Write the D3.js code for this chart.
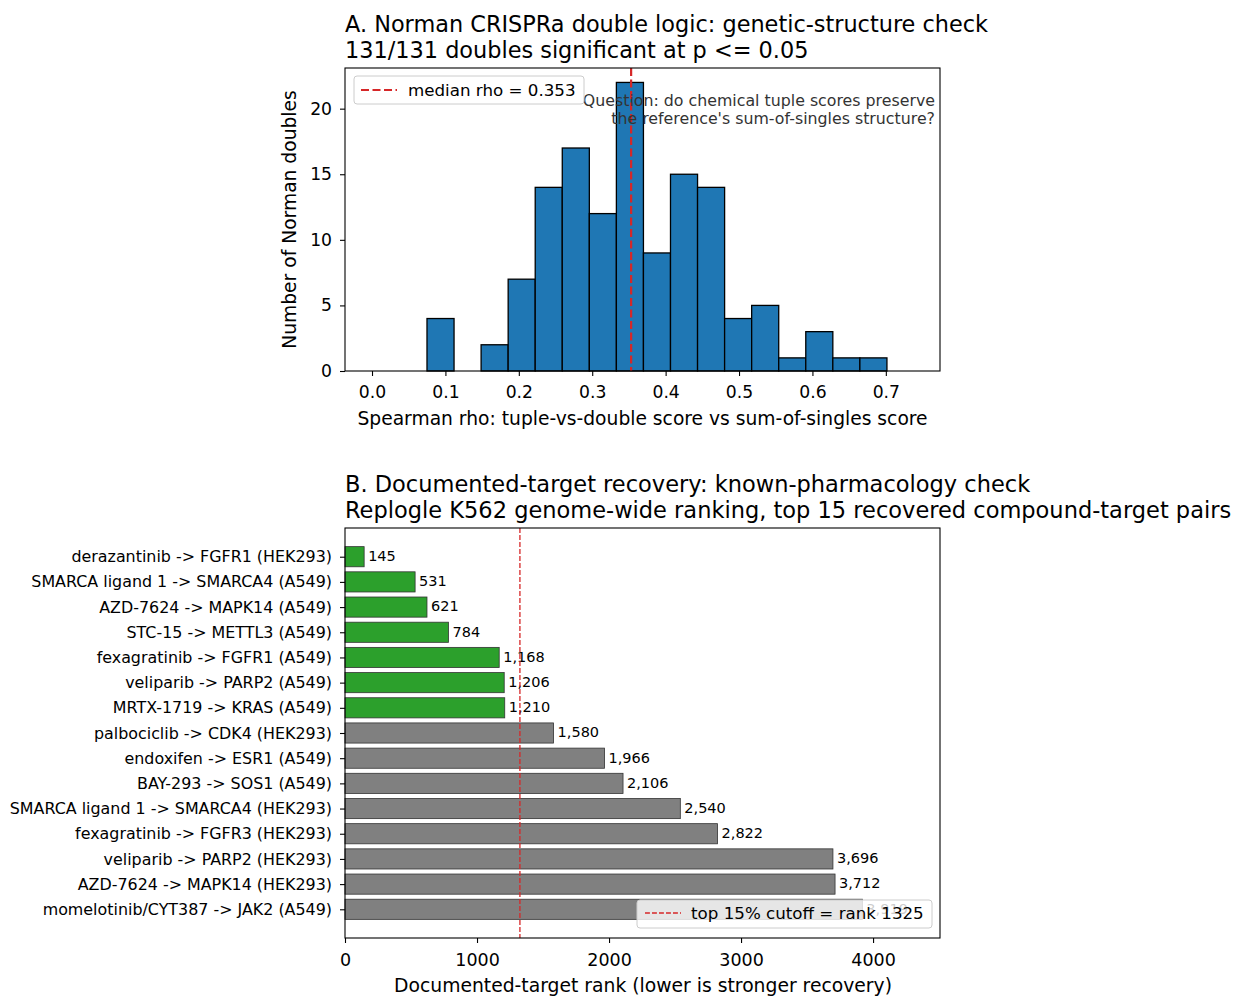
<!DOCTYPE html>
<html>
<head>
<meta charset="utf-8">
<script src="https://cdn.jsdelivr.net/npm/d3@7"></script>
<style>
  html, body { margin: 0; padding: 0; background: #fff; }
  svg text { font-family: "DejaVu Sans", sans-serif; }
</style>
</head>
<body>
<svg id="chart" width="1236" height="997"></svg>
<script>
// ---------- Data ----------
const histBinStart = 0.0749;
const histBinWidth = 0.03686;
const histCounts = [4, 0, 2, 7, 14, 17, 12, 22, 9, 15, 14, 4, 5, 1, 3, 1, 1];
const medianRho = 0.353;
const histXTicks = [0.0, 0.1, 0.2, 0.3, 0.4, 0.5, 0.6, 0.7];
const histYTicks = [0, 5, 10, 15, 20];

const pairLabels = [
  "derazantinib -> FGFR1 (HEK293)",
  "SMARCA ligand 1 -> SMARCA4 (A549)",
  "AZD-7624 -> MAPK14 (A549)",
  "STC-15 -> METTL3 (A549)",
  "fexagratinib -> FGFR1 (A549)",
  "veliparib -> PARP2 (A549)",
  "MRTX-1719 -> KRAS (A549)",
  "palbociclib -> CDK4 (HEK293)",
  "endoxifen -> ESR1 (A549)",
  "BAY-293 -> SOS1 (A549)",
  "SMARCA ligand 1 -> SMARCA4 (HEK293)",
  "fexagratinib -> FGFR3 (HEK293)",
  "veliparib -> PARP2 (HEK293)",
  "AZD-7624 -> MAPK14 (HEK293)",
  "momelotinib/CYT387 -> JAK2 (A549)"
];
const pairRanks = [145, 531, 621, 784, 1168, 1206, 1210, 1580, 1966, 2106, 2540, 2822, 3696, 3712, 3919];
const cutoffRank = 1325;
const rankTicks = [0, 1000, 2000, 3000, 4000];

// ---------- Setup ----------
const svg = d3.select("#chart");
const FONT = "DejaVu Sans, sans-serif";
const RED = "#d62728";

function drawFrame(g, x0, x1, y0, y1) {
  g.append("rect").attr("x", x0).attr("y", y0).attr("width", x1 - x0).attr("height", y1 - y0)
    .attr("fill", "none").attr("stroke", "#000").attr("stroke-width", 1.1);
}

// ================= Panel A =================
const A = { left: 345, right: 940, top: 68, bottom: 371 };
const xA = d3.scaleLinear().domain([-0.0368, 0.7738]).range([A.left, A.right]);
const yA = d3.scaleLinear().domain([0, 23.1]).range([A.bottom, A.top]);
const gA = svg.append("g");

const bins = histCounts.map((c, i) => ({ x0: histBinStart + i * histBinWidth, x1: histBinStart + (i + 1) * histBinWidth, c }));
gA.selectAll("rect.bin").data(bins.filter(d => d.c > 0)).enter().append("rect")
  .attr("class", "bin")
  .attr("x", d => xA(d.x0)).attr("width", d => xA(d.x1) - xA(d.x0))
  .attr("y", d => yA(d.c)).attr("height", d => yA(0) - yA(d.c))
  .attr("fill", "#1f77b4").attr("stroke", "#000").attr("stroke-width", 1.3);

// median line
gA.append("line").attr("x1", xA(medianRho)).attr("x2", xA(medianRho))
  .attr("y1", A.top).attr("y2", A.bottom)
  .attr("stroke", RED).attr("stroke-width", 2.2).attr("stroke-dasharray", "8,3.5");

// annotation
const annA = gA.append("text").attr("text-anchor", "end").attr("fill", "#333")
  .style("font-size", "15.8px");
annA.append("tspan").attr("x", 935).attr("y", 106).text("Question: do chemical tuple scores preserve");
annA.append("tspan").attr("x", 935).attr("y", 124).text("the reference's sum-of-singles structure?");

drawFrame(gA, A.left, A.right, A.top, A.bottom);

// axes A
const xAxisA = d3.axisBottom(xA).tickValues(histXTicks).tickFormat(d3.format(".1f")).tickSize(5).tickPadding(4);
const gxA = gA.append("g").attr("transform", `translate(0,${A.bottom})`).call(xAxisA);
const yAxisA = d3.axisLeft(yA).tickValues(histYTicks).tickSize(5).tickPadding(8);
const gyA = gA.append("g").attr("transform", `translate(${A.left},0)`).call(yAxisA);
[gxA, gyA].forEach(g => {
  g.select(".domain").remove();
  g.selectAll(".tick line").attr("stroke", "#000").attr("stroke-width", 1.1);
  g.selectAll(".tick text").attr("fill", "#000").style("font-size", "17.2px").style("font-family", FONT);
});
gxA.selectAll(".tick text").attr("dy", "1.05em");

gA.append("text").attr("x", (A.left + A.right) / 2 + 0).attr("y", 425).attr("text-anchor", "middle")
  .style("font-size", "18.7px").text("Spearman rho: tuple-vs-double score vs sum-of-singles score");
gA.append("text").attr("transform", `translate(296,${(A.top + A.bottom) / 2}) rotate(-90)`)
  .attr("text-anchor", "middle").style("font-size", "18.7px").text("Number of Norman doubles");

// title A
const tA = gA.append("text").style("font-size", "22.4px");
tA.append("tspan").attr("x", A.left).attr("y", 32).text("A. Norman CRISPRa double logic: genetic-structure check");
tA.append("tspan").attr("x", A.left).attr("y", 58).text("131/131 doubles significant at p <= 0.05");

// legend A
const lgA = gA.append("g");
lgA.append("rect").attr("x", 354).attr("y", 76).attr("width", 230).attr("height", 28).attr("rx", 3)
  .attr("fill", "#fff").attr("fill-opacity", 0.8).attr("stroke", "#ccc").attr("stroke-width", 1);
lgA.append("line").attr("x1", 361).attr("x2", 397).attr("y1", 90).attr("y2", 90)
  .attr("stroke", RED).attr("stroke-width", 2.2).attr("stroke-dasharray", "8,3.5");
lgA.append("text").attr("x", 408).attr("y", 96).style("font-size", "16.7px").text(`median rho = ${medianRho}`);

// ================= Panel B =================
const B = { left: 345, right: 940, top: 528, bottom: 938 };
const xB = d3.scaleLinear().domain([0, 4507]).range([B.left, B.right]);
const yB = d3.scaleLinear().domain([-1.14, 15.14]).range([B.top, B.bottom]);
const barH = yB(0.8) - yB(0);
const gB = svg.append("g");

gB.selectAll("rect.bar").data(pairRanks).enter().append("rect")
  .attr("class", "bar")
  .attr("x", xB(0)).attr("width", d => xB(d) - xB(0))
  .attr("y", (d, i) => yB(i) - barH / 2).attr("height", barH)
  .attr("fill", d => d < cutoffRank ? "#2ca02c" : "#808080")
  .attr("stroke", "#333").attr("stroke-width", 0.8);

const fmt = d3.format(",");
gB.selectAll("text.val").data(pairRanks).enter().append("text")
  .attr("class", "val")
  .attr("x", d => xB(d) + 4).attr("y", (d, i) => yB(i)).attr("dy", "0.3em")
  .style("font-size", "14.5px").text(d => fmt(d));

gB.append("line").attr("x1", xB(cutoffRank)).attr("x2", xB(cutoffRank))
  .attr("y1", B.top).attr("y2", B.bottom)
  .attr("stroke", RED).attr("stroke-width", 1.3).attr("stroke-dasharray", "4.9,2.1");

drawFrame(gB, B.left, B.right, B.top, B.bottom);

const xAxisB = d3.axisBottom(xB).tickValues(rankTicks).tickFormat(d3.format("d")).tickSize(5).tickPadding(4);
const gxB = gB.append("g").attr("transform", `translate(0,${B.bottom})`).call(xAxisB);
const yAxisB = d3.axisLeft(yB).tickValues(d3.range(pairLabels.length)).tickFormat(i => pairLabels[i]).tickSize(5).tickPadding(8);
const gyB = gB.append("g").attr("transform", `translate(${B.left},0)`).call(yAxisB);
[gxB, gyB].forEach(g => {
  g.select(".domain").remove();
  g.selectAll(".tick line").attr("stroke", "#000").attr("stroke-width", 1.1);
  g.selectAll(".tick text").attr("fill", "#000").style("font-family", FONT);
});
gxB.selectAll(".tick text").style("font-size", "17.5px").attr("dy", "1.1em");
gyB.selectAll(".tick text").style("font-size", "15.9px");

gB.append("text").attr("x", 643).attr("y", 992).attr("text-anchor", "middle")
  .style("font-size", "18.75px").text("Documented-target rank (lower is stronger recovery)");

const tB = gB.append("text").style("font-size", "22.5px");
tB.append("tspan").attr("x", B.left).attr("y", 492).text("B. Documented-target recovery: known-pharmacology check");
tB.append("tspan").attr("x", B.left).attr("y", 518).text("Replogle K562 genome-wide ranking, top 15 recovered compound-target pairs");

// legend B
const lgB = gB.append("g");
lgB.append("rect").attr("x", 637).attr("y", 900).attr("width", 295).attr("height", 28).attr("rx", 3)
  .attr("fill", "#fff").attr("fill-opacity", 0.8).attr("stroke", "#ccc").attr("stroke-width", 1);
lgB.append("line").attr("x1", 645).attr("x2", 681).attr("y1", 913).attr("y2", 913)
  .attr("stroke", RED).attr("stroke-width", 1.3).attr("stroke-dasharray", "4.9,2.1");
lgB.append("text").attr("x", 691).attr("y", 919).style("font-size", "16.7px").text(`top 15% cutoff = rank ${cutoffRank}`);
</script>
</body>
</html>
